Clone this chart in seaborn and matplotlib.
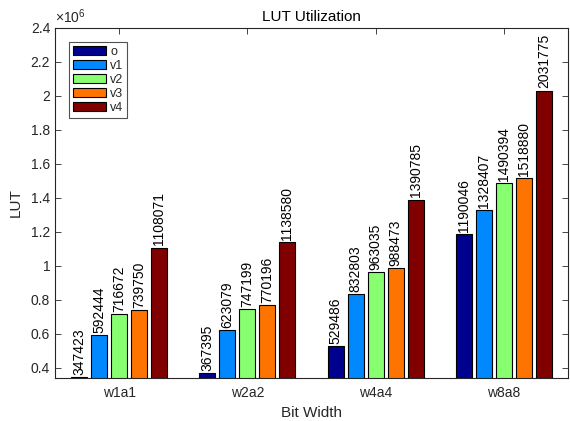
import numpy as np
import pandas as pd
import matplotlib
matplotlib.use("Agg")
import matplotlib.pyplot as plt
import seaborn as sns
from matplotlib.ticker import FixedLocator, FuncFormatter

bit_widths = ["w1a1", "w2a2", "w4a4", "w8a8"]
series = ["o", "v1", "v2", "v3", "v4"]
lut_o = [347423, 367395, 529486, 1190046]
lut_v1 = [592444, 623079, 832803, 1328407]
lut_v2 = [716672, 747199, 963035, 1490394]
lut_v3 = [739750, 770196, 988473, 1518880]
lut_v4 = [1108071, 1138580, 1390785, 2031775]
colors = ["#00008F", "#0088FF", "#88FF70", "#FF7400", "#800000"]
yticks = [0.4e6, 0.6e6, 0.8e6, 1.0e6, 1.2e6, 1.4e6, 1.6e6, 1.8e6, 2.0e6, 2.2e6, 2.4e6]

values = [lut_o, lut_v1, lut_v2, lut_v3, lut_v4]
df = pd.DataFrame({
    "Bit Width": bit_widths * len(series),
    "version": [s for s in series for _ in bit_widths],
    "LUT": [v for vals in values for v in vals],
})

sns.set_theme(style="white")
plt.rcParams["font.family"] = ["Liberation Sans", "DejaVu Sans"]
plt.rcParams["mathtext.fontset"] = "custom"
plt.rcParams["mathtext.rm"] = "Liberation Sans"
plt.rcParams["mathtext.it"] = "Liberation Sans"

dark = "#262626"
fig = plt.figure(figsize=(5.7, 4.21), dpi=100)
ax = fig.add_axes([0.0965, 0.1021, 0.9, 0.8314])

sns.barplot(data=df, x="Bit Width", y="LUT", hue="version", hue_order=series,
            palette=colors, order=bit_widths, gap=0.2, width=0.78,
            edgecolor="black", linewidth=0.8, saturation=1, ax=ax, legend=True)

for container, vals in zip(ax.containers, values):
    ax.bar_label(container, labels=[str(v) for v in vals], rotation=90,
                 padding=1.5, fontsize=10, color="black")

ax.set_xlim(-0.5, 3.5)
ax.set_ylim(min(lut_o) * 0.98, 2.4e6)
ax.yaxis.set_major_locator(FixedLocator(yticks))
ax.yaxis.set_major_formatter(FuncFormatter(lambda v, p: f"{v / 1e6:g}"))

ax.set_title("LUT Utilization", fontsize=11, color="black", pad=5)
ax.set_xlabel("Bit Width", fontsize=11, color=dark, labelpad=4)
ax.set_ylabel("LUT", fontsize=11, color=dark, labelpad=6)

ax.tick_params(axis="both", direction="in", length=4, width=0.6, colors=dark,
               labelsize=10, labelcolor=dark, top=True, right=True, left=True, bottom=True)
ax.tick_params(axis="x", pad=6)
for side in ax.spines.values():
    side.set_visible(True)
    side.set_color(dark)
    side.set_linewidth(0.8)

ax.text(0.0, 1.005, r"$\times 10^{6}$", transform=ax.transAxes, fontsize=10,
        color=dark, ha="left", va="bottom")

handles, labels = ax.get_legend_handles_labels()
leg = ax.legend(handles, labels, loc="upper left", bbox_to_anchor=(0.027, 0.96),
                fontsize=9, frameon=True, fancybox=False, handlelength=2.7,
                handleheight=0.8, handletextpad=0.3, labelspacing=0.15,
                borderpad=0.3, borderaxespad=0.0)
leg.get_frame().set_edgecolor(dark)
leg.get_frame().set_linewidth(0.8)
for h in leg.legend_handles:
    h.set_edgecolor("black")
    h.set_linewidth(0.8)

fig.savefig("out.png", dpi=100)
